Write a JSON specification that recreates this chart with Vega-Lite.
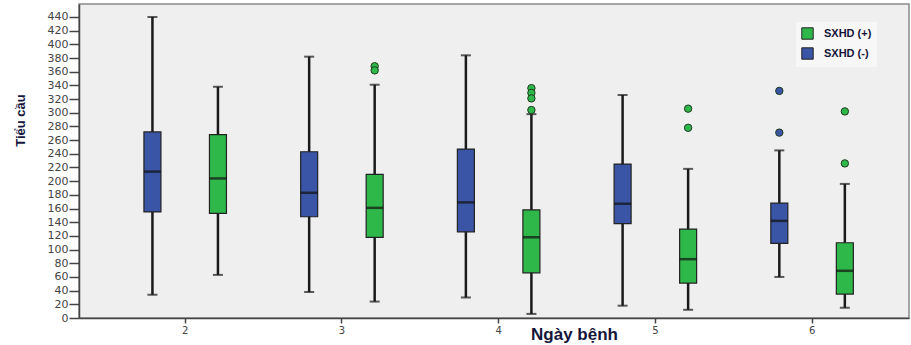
{
  "$schema": "https://vega.github.io/schema/vega-lite/v6.json",
  "width": 830,
  "height": 314,
  "autosize": {"type": "none"},
  "padding": {"left": 79, "top": 4, "right": 2, "bottom": 27},
  "background": "white",
  "config": {
    "view": {"fill": "#efefef", "stroke": "#8a8a8a", "strokeWidth": 1.5},
    "font": "Liberation Sans",
    "axisY": {
      "tickCount": 23,
      "labelOverlap": false,
      "labelFlush": false,
      "labelBound": false,
      "grid": false,
      "labelFont": "DejaVu Sans",
      "labelFontSize": 11,
      "labelColor": "#444444",
      "tickColor": "#444444",
      "tickSize": 10,
      "tickWidth": 1.5,
      "labelPadding": 1,
      "domainColor": "#444444",
      "domainWidth": 1.5
    }
  },
  "datasets": {
    "boxes": [
      {"day": 2, "group": "SXHD (-)", "min": 34, "q1": 155, "median": 214, "q3": 272, "max": 440},
      {"day": 2, "group": "SXHD (+)", "min": 63, "q1": 153, "median": 204, "q3": 268, "max": 338},
      {"day": 3, "group": "SXHD (-)", "min": 38, "q1": 148, "median": 183, "q3": 243, "max": 382},
      {"day": 3, "group": "SXHD (+)", "min": 24, "q1": 118, "median": 161, "q3": 210, "max": 341},
      {"day": 4, "group": "SXHD (-)", "min": 30, "q1": 126, "median": 169, "q3": 247, "max": 384},
      {"day": 4, "group": "SXHD (+)", "min": 6, "q1": 66, "median": 118, "q3": 158, "max": 298},
      {"day": 5, "group": "SXHD (-)", "min": 18, "q1": 138, "median": 167, "q3": 225, "max": 326},
      {"day": 5, "group": "SXHD (+)", "min": 12, "q1": 51, "median": 86, "q3": 130, "max": 218},
      {"day": 6, "group": "SXHD (-)", "min": 60, "q1": 109, "median": 142, "q3": 168, "max": 245},
      {"day": 6, "group": "SXHD (+)", "min": 15, "q1": 35, "median": 69, "q3": 110, "max": 196}
    ],
    "outliers": [
      {"day": 3, "group": "SXHD (+)", "value": 368},
      {"day": 3, "group": "SXHD (+)", "value": 362},
      {"day": 4, "group": "SXHD (+)", "value": 336},
      {"day": 4, "group": "SXHD (+)", "value": 329},
      {"day": 4, "group": "SXHD (+)", "value": 321},
      {"day": 4, "group": "SXHD (+)", "value": 304},
      {"day": 5, "group": "SXHD (+)", "value": 306},
      {"day": 5, "group": "SXHD (+)", "value": 278},
      {"day": 6, "group": "SXHD (-)", "value": 332},
      {"day": 6, "group": "SXHD (-)", "value": 271},
      {"day": 6, "group": "SXHD (+)", "value": 302},
      {"day": 6, "group": "SXHD (+)", "value": 226}
    ]
  },
  "encoding": {
    "x": {
      "field": "day",
      "type": "ordinal",
      "scale": {"paddingInner": 0, "paddingOuter": 0.148, "align": 0.6},
      "axis": {
        "labelAngle": 0,
        "labelFont": "DejaVu Sans",
        "labelFontSize": 10,
        "labelColor": "#444444",
        "tickColor": "#444444",
        "tickSize": 5,
        "tickWidth": 1.5,
        "labelPadding": 2,
        "domainColor": "#444444",
        "domainWidth": 1.5,
        "title": "Ngày bệnh",
        "titleFont": "Liberation Sans",
        "titleFontSize": 17,
        "titleFontWeight": "bold",
        "titleColor": "#15153a",
        "titleX": 495,
        "titleY": 8,
        "titleAlign": "center",
        "titleBaseline": "top"
      }
    },
    "xOffset": {
      "field": "group",
      "type": "nominal",
      "scale": {"domain": ["SXHD (-)", "SXHD (+)"], "paddingInner": 0, "paddingOuter": 0.196}
    }
  },
  "layer": [
    {
      "data": {"name": "boxes"},
      "mark": {"type": "rule", "color": "#1a1a1a", "strokeWidth": 2.5},
      "encoding": {
        "y": {
          "field": "min",
          "type": "quantitative",
          "scale": {"domain": [0, 459], "nice": false, "zero": true},
          "axis": {
            "values": [0, 20, 40, 60, 80, 100, 120, 140, 160, 180, 200, 220, 240, 260, 280, 300, 320, 340, 360, 380, 400, 420, 440],
            "labelOverlap": false,
            "title": "Tiểu cầu",
            "titleFont": "Liberation Sans",
            "titleFontSize": 13,
            "titleFontWeight": "bold",
            "titleColor": "#15153a",
            "titleX": -52,
            "titleY": 116,
            "titleAlign": "center",
            "titleBaseline": "bottom"
          }
        },
        "y2": {"field": "max"}
      }
    },
    {
      "data": {"name": "boxes"},
      "mark": {"type": "tick", "color": "#1a1a1a", "size": 10, "thickness": 2, "orient": "horizontal"},
      "encoding": {"y": {"field": "min", "type": "quantitative"}}
    },
    {
      "data": {"name": "boxes"},
      "mark": {"type": "tick", "color": "#1a1a1a", "size": 10, "thickness": 2, "orient": "horizontal"},
      "encoding": {"y": {"field": "max", "type": "quantitative"}}
    },
    {
      "data": {"name": "boxes"},
      "mark": {"type": "bar", "size": 17, "stroke": "#222222", "strokeWidth": 1.2, "opacity": 1},
      "encoding": {
        "y": {"field": "q1", "type": "quantitative"},
        "y2": {"field": "q3"},
        "color": {
          "field": "group",
          "type": "nominal",
          "scale": {"domain": ["SXHD (+)", "SXHD (-)"], "range": ["#2fb84a", "#3a55a6"]},
          "legend": {
            "title": null,
            "orient": "none",
            "legendX": 717,
            "legendY": 18,
            "padding": 5,
            "fillColor": "#f7f7f7",
            "symbolType": "square",
            "symbolSize": 130,
            "symbolStrokeColor": "#222222",
            "symbolStrokeWidth": 1,
            "labelFont": "Liberation Sans",
            "labelFontSize": 11,
            "labelFontWeight": "bold",
            "labelColor": "#15153a",
            "labelOffset": 10,
            "rowPadding": 3
          }
        }
      }
    },
    {
      "data": {"name": "boxes"},
      "mark": {"type": "tick", "color": "#111111", "size": 17, "thickness": 2.5, "orient": "horizontal"},
      "encoding": {"y": {"field": "median", "type": "quantitative"}}
    },
    {
      "data": {"name": "outliers"},
      "mark": {"type": "point", "shape": "circle", "filled": true, "size": 55, "stroke": "#1e3a1e", "strokeWidth": 1, "opacity": 1},
      "encoding": {
        "y": {"field": "value", "type": "quantitative"},
        "color": {"field": "group", "type": "nominal", "legend": null}
      }
    }
  ]
}
